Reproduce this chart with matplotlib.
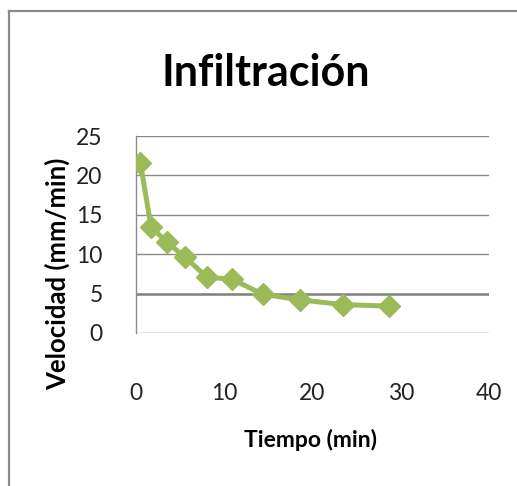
import matplotlib.pyplot as plt
from matplotlib.lines import Line2D

# data
tiempo = [0.5, 1.7, 3.5, 5.5, 8.0, 10.9, 14.4, 18.6, 23.4, 28.7]
velocidad = [21.6, 13.5, 11.5, 9.7, 7.1, 6.8, 4.9, 4.2, 3.6, 3.4]
x_ticks = [0, 10, 20, 30, 40]
y_ticks = [0, 5, 10, 15, 20, 25]

plt.rcParams['font.family'] = ['Lato', 'DejaVu Sans']

fig = plt.figure(figsize=(5.17, 4.86), dpi=100)
ax = fig.add_axes([0.263, 0.315, 0.683, 0.405])

green = '#9BBB59'
ax.plot(tiempo, velocidad, color=green, linewidth=3.6, marker='D',
        markersize=11, markerfacecolor=green, markeredgecolor=green,
        solid_joinstyle='round', zorder=3)

ax.set_xlim(0, 40)
ax.set_ylim(0, 25)
ax.set_xticks(x_ticks)
ax.set_yticks(y_ticks)

# horizontal gridlines
for v in y_ticks:
    lw = 1.8 if v == 5 else 1.0
    col = '#7f7f7f' if v == 5 else '#8c8c8c'
    ax.axhline(v, color=col, linewidth=lw, zorder=1)

for s in ['top', 'right', 'bottom']:
    ax.spines[s].set_visible(False)
ax.spines['left'].set_color('#8c8c8c')
ax.spines['left'].set_linewidth(1.0)

ax.tick_params(axis='both', length=0, labelsize=16.5, colors='#222222')
ax.tick_params(axis='x', pad=36)
ax.tick_params(axis='y', pad=24)

fig.text(266 / 517, 1 - 73 / 486, 'Infiltración', ha='center', va='center',
         fontsize=31, fontweight='bold', color='black')
fig.text(311 / 517, 1 - 440 / 486, 'Tiempo (min)', ha='center', va='center',
         fontsize=16.5, fontweight='bold', color='black')
fig.text(57 / 517, 1 - 274 / 486, 'Velocidad (mm/min)', ha='center', va='center',
         rotation=90, fontsize=18.5, fontweight='bold', color='black')

# chart frame (left and top edges visible)
fx = 9 / 517
fy = 1 - 11 / 486
fig.add_artist(Line2D([fx, fx], [0, fy], transform=fig.transFigure,
                      color='#8a8a8a', linewidth=1.6))
fig.add_artist(Line2D([fx, 1], [fy, fy], transform=fig.transFigure,
                      color='#8a8a8a', linewidth=1.6))

fig.savefig('out.png', dpi=100)
